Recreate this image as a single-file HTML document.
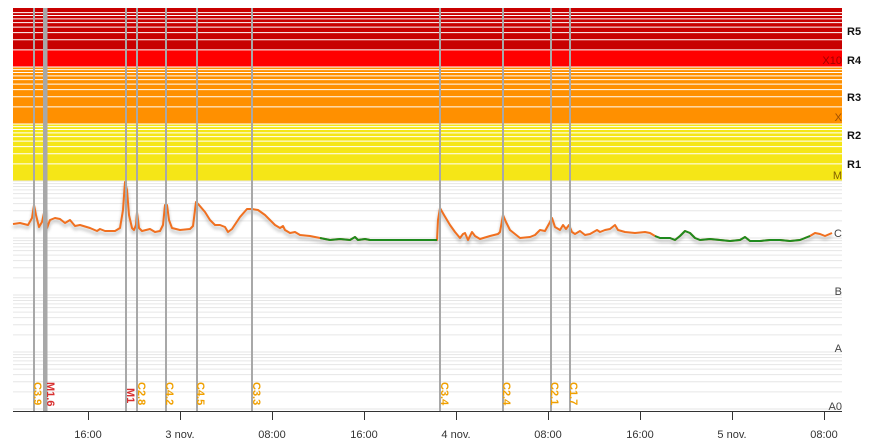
<!DOCTYPE html>
<html><head><meta charset="utf-8"><style>
html,body{margin:0;padding:0;background:#fff;width:874px;height:446px;overflow:hidden}
svg{font-family:"Liberation Sans",sans-serif}
</style></head><body>
<svg id="s" width="874" height="446" xmlns="http://www.w3.org/2000/svg">
<defs><filter id="sh" x="-5%" y="-50%" width="110%" height="200%"><feGaussianBlur stdDeviation="1.5"/></filter></defs>
<g id="bands"></g>
<g id="grid"></g>
<g id="curve"></g>
<g id="flares"></g>
<g id="labels"></g>
</svg>
<script>
var NS="http://www.w3.org/2000/svg";
function el(p,t,a,txt){var e=document.createElementNS(NS,t);for(var k in a)e.setAttribute(k,a[k]);if(txt!=null)e.textContent=txt;document.getElementById(p).appendChild(e);return e;}
var X0=13,X1=842,D=57,Y5=181; // y at 1e-5
function Y(v){return Y5-D*Math.log10(v/1e-5);}
// bands
el("bands","rect",{x:X0,y:8,width:X1-X0,height:Y(2e-3)-8,fill:"#c80000"});
el("bands","rect",{x:X0,y:Y(2e-3),width:X1-X0,height:Y(1e-3)-Y(2e-3),fill:"#ff0000"});
el("bands","rect",{x:X0,y:Y(1e-3),width:X1-X0,height:Y(1e-4)-Y(1e-3),fill:"#ff9000"});
el("bands","rect",{x:X0,y:Y(1e-4),width:X1-X0,height:Y(1e-5)-Y(1e-4),fill:"#f5e617"});
// gridlines
for(var e=-9;e<=-3;e++){for(var n=1;n<=9;n++){var v=n*Math.pow(10,e);var y=Y(v);if(y<8.5||y>410)continue;
 var inb=y<Y5-0.5;
 el("grid","line",{x1:X0,x2:X1,y1:y,y2:y,stroke:inb?"#fff":"#e6e6e6","stroke-width":1});}}
// curve
var P=[13,224,20,223,28,225,32,218,34,205,36,215,39,227,42,222,44,213,46,210,47,228,50,220,55,218,60,219,65,223,70,220,75,226,80,225,90,228,97,231,100,229,105,231,115,231,120,228,123,210,125,182,127,190,129,215,132,228,134,230,136,225,137,212,139,228,142,231,150,229,155,232,160,231,163,225,165,205,167,205,169,220,172,228,180,230,190,229,193,226,196,202,199,205,205,212,210,220,215,225,220,225,225,227,228,232,232,229,240,217,247,209,252,209,258,210,265,215,270,220,275,225,280,228,283,226,285,230,290,233,295,232,300,235,310,236,320,238,330,240,340,239,350,240,355,237,358,240,365,239,370,240,380,240,400,240,420,240,437,240,438,220,440,208,444,215,450,225,455,232,460,238,463,234,465,233,468,240,472,232,475,236,480,239,490,236,498,234,500,232,503,215,506,222,510,230,520,238,530,237,535,235,540,230,545,231,550,222,552,218,555,227,560,230,563,225,566,229,569,225,572,232,575,234,580,231,585,235,590,234,597,230,600,232,605,230,610,229,615,225,618,230,625,232,635,233,645,232,650,233,655,236,660,238,670,238,675,240,680,236,685,231,690,233,695,238,700,240,710,239,720,240,730,241,740,240,745,237,750,241,760,241,770,240,780,240,790,241,800,240,810,236,815,233,820,234,825,236,832,233];
function pts(a,b){var s=[];for(var i=0;i<P.length;i+=2){if(P[i]>=a&&P[i]<=b)s.push(P[i]+","+P[i+1]);}return s.join(" ");}
var all=pts(0,900);
el("curve","polyline",{points:all.split(" ").map(function(p){var q=p.split(",");return q[0]+","+(+q[1]+3);}).join(" "),fill:"none",stroke:"#888","stroke-width":2,filter:"url(#sh)",opacity:0.6});
el("curve","polyline",{points:all,fill:"none",stroke:"#f07020","stroke-width":2,"stroke-linejoin":"round"});
el("curve","polyline",{points:pts(318,437),fill:"none",stroke:"#1e8a1e","stroke-width":2,"stroke-linejoin":"round"});
el("curve","polyline",{points:pts(655,810),fill:"none",stroke:"#1e8a1e","stroke-width":2,"stroke-linejoin":"round"});
// flares
var F=[[34,"C3.9",38,"#f0a000"],[44,null],[46,"M1.6",51,"#d83030"],[126,"M1",131,"#d83030"],[137,"C2.8",142,"#f0a000"],[166,"C4.2",170,"#f0a000"],[197,"C4.5",201,"#f0a000"],[252,"C3.3",257,"#f0a000"],[440,"C3.4",445,"#f0a000"],[503,"C2.4",507,"#f0a000"],[551,"C2.1",555,"#f0a000"],[570,"C1.7",574,"#f0a000"]];
F.forEach(function(f){el("flares","line",{x1:f[0],x2:f[0],y1:8,y2:411,stroke:"#a8a8a8","stroke-width":f[0]==46?3:2});
 if(f[1]){var ty=(f[1]=="M1")?388:382;var t=el("flares","text",{x:0,y:0,transform:"translate("+(f[2]-4)+","+ty+") rotate(90)","font-size":11,"font-weight":"bold",fill:f[3]},f[1]);}});
// axis
el("labels","line",{x1:X0,x2:X1,y1:411.5,y2:411.5,stroke:"#333","stroke-width":1});
var T=[[88,"16:00"],[180,"3 nov."],[272,"08:00"],[364,"16:00"],[456,"4 nov."],[548,"08:00"],[640,"16:00"],[732,"5 nov."],[824,"08:00"]];
T.forEach(function(t){el("labels","line",{x1:t[0]+0.5,x2:t[0]+0.5,y1:412,y2:420,stroke:"#333"});el("labels","text",{x:t[0],y:438,"text-anchor":"middle","font-size":11,fill:"#333"},t[1]);});
// class labels
[["X10",64,"#a00000"],["X",121,"#a05000"],["M",179,"#806000"],["C",237,"#444"],["B",295,"#444"],["A",352,"#444"],["A0",410,"#444"]].forEach(function(l){el("labels","text",{x:842,y:l[1],"text-anchor":"end","font-size":11,fill:l[2]},l[0]);});
[["R5",35],["R4",64],["R3",101],["R2",139],["R1",168]].forEach(function(l){el("labels","text",{x:847,y:l[1],"font-size":11,"font-weight":"bold",fill:"#111"},l[0]);});
</script>
</body></html>
